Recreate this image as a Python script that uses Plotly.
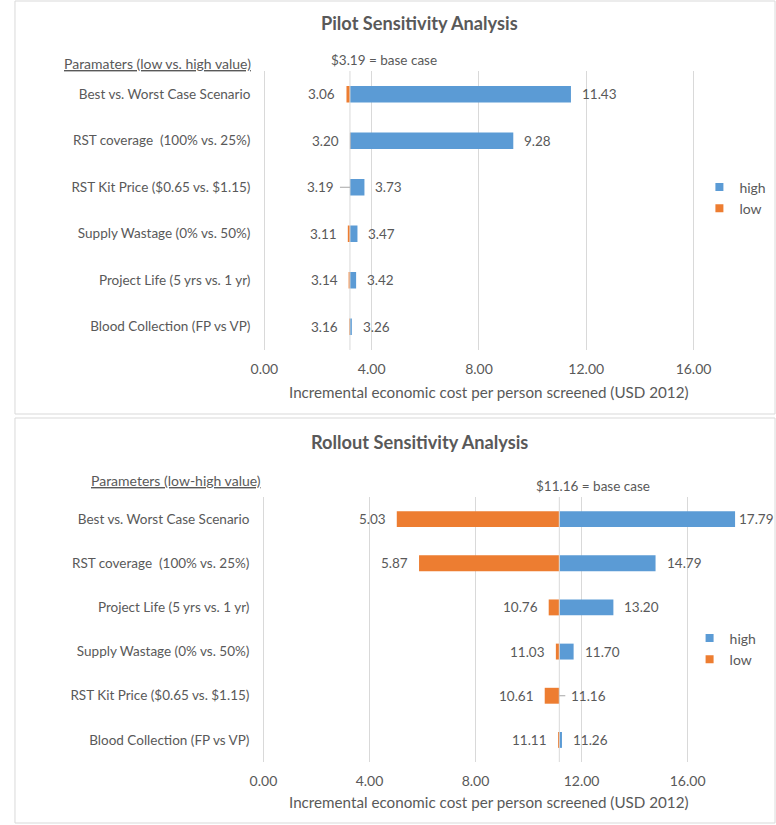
import plotly.graph_objects as go

# ---------------- data ----------------
pilot_categories = [
    "Best vs. Worst Case Scenario",
    "RST coverage  (100% vs. 25%)",
    "RST Kit Price ($0.65 vs. $1.15)",
    "Supply Wastage (0% vs. 50%)",
    "Project Life (5 yrs vs. 1 yr)",
    "Blood Collection (FP vs VP)",
]
pilot_low = [3.06, 3.20, 3.19, 3.11, 3.14, 3.16]
pilot_high = [11.43, 9.28, 3.73, 3.47, 3.42, 3.26]
pilot_base = 3.19

rollout_categories = [
    "Best vs. Worst Case Scenario",
    "RST coverage  (100% vs. 25%)",
    "Project Life (5 yrs vs. 1 yr)",
    "Supply Wastage (0% vs. 50%)",
    "RST Kit Price ($0.65 vs. $1.15)",
    "Blood Collection (FP vs VP)",
]
rollout_low = [5.03, 5.87, 10.76, 11.03, 10.61, 11.11]
rollout_high = [17.79, 14.79, 13.20, 11.70, 11.16, 11.26]
rollout_base = 11.16

x_ticks = [0, 4, 8, 12, 16]

# ---------------- style ----------------
W, H = 776, 825
BLUE = "#5B9BD5"
ORANGE = "#ED7D31"
GRID = "#D9D9D9"
TXT = "#595959"
FONT = "Lato"
FS = 13.5

fig = go.Figure()

panels = [
    dict(cats=pilot_categories, low=pilot_low, high=pilot_high, base=pilot_base,
         xa="x", ya="y", x0px=255, x16px=692, top=71, bottom=350,
         title="Pilot Sensitivity Analysis", title_y=23,
         header="<u>Paramaters (low vs. high value)</u>", header_x=243, header_y=63,
         axis_title_y=392, legend="legend", leg_x=698, leg_y=198,
         panel=(1, 1, 775, 414)),
    dict(cats=rollout_categories, low=rollout_low, high=rollout_high, base=rollout_base,
         xa="x2", ya="y2", x0px=254, x16px=686, top=497, bottom=762,
         title="Rollout Sensitivity Analysis", title_y=442,
         header="<u>Parameters (low-high value)</u>", header_x=254, header_y=480,
         axis_title_y=802, legend="legend2", leg_x=688, leg_y=649,
         panel=(1, 418, 775, 823)),
]

annotations = []
shapes = []
right_px = 770

for i, p in enumerate(panels):
    base = p["base"]
    scale = (p["x16px"] - p["x0px"]) / 16.0
    xmax = (right_px - p["x0px"]) / scale
    xa, ya = p["xa"], p["ya"]
    axn = "" if i == 0 else "2"

    # high bars (from base to high)
    fig.add_trace(go.Bar(
        y=p["cats"], x=[h - base for h in p["high"]], base=base, orientation="h",
        marker=dict(color=BLUE, line=dict(width=0)), width=0.36,
        xaxis=xa, yaxis=ya, showlegend=False, name="high", hoverinfo="skip"))
    # low bars (from low to base)
    fig.add_trace(go.Bar(
        y=p["cats"], x=[base - l for l in p["low"]], base=p["low"], orientation="h",
        marker=dict(color=ORANGE, line=dict(width=0)), width=0.36,
        xaxis=xa, yaxis=ya, showlegend=False, name="low", hoverinfo="skip"))
    # legend entries
    for name, col in [("high", BLUE), ("low", ORANGE)]:
        fig.add_trace(go.Scatter(
            x=[None], y=[None], mode="markers", name=name,
            marker=dict(symbol="square", size=8, color=col),
            xaxis=xa, yaxis=ya, legend=p["legend"], showlegend=True))

    fig.update_layout(**{
        "xaxis" + axn: dict(
            domain=[p["x0px"] / W, right_px / W], range=[0, xmax],
            tickvals=x_ticks, tickformat=".2f", showgrid=True, gridcolor=GRID,
            gridwidth=1, zeroline=True, zerolinecolor=GRID, zerolinewidth=1,
            showline=False, ticks="", ticklabelstandoff=9,
            tickfont=dict(family=FONT, size=14, color=TXT), anchor=ya,
            fixedrange=True),
        "yaxis" + axn: dict(
            domain=[1 - p["bottom"] / H, 1 - p["top"] / H],
            type="category", autorange="reversed", showgrid=False,
            zeroline=False, showline=False, ticks="", ticklabelstandoff=13,
            tickfont=dict(family=FONT, size=FS, color=TXT), anchor=xa,
            fixedrange=True),
        p["legend"]: dict(
            x=p["leg_x"] / W, y=1 - p["leg_y"] / H, xanchor="left", yanchor="middle",
            bgcolor="rgba(0,0,0,0)", font=dict(family=FONT, size=14, color=TXT),
            traceorder="normal", itemwidth=30, tracegroupgap=0),
    })

    # base case vertical line
    shapes.append(dict(type="line", xref=xa, yref=ya + " domain", x0=base, x1=base,
                       y0=0, y1=1, line=dict(color=GRID, width=1), layer="above"))
    # panel border
    x0, y0, x1, y1 = p["panel"]
    shapes.append(dict(type="rect", xref="paper", yref="paper",
                       x0=x0 / W, x1=x1 / W, y0=1 - y1 / H, y1=1 - y0 / H,
                       line=dict(color=GRID, width=1), layer="below"))

    # data labels
    for cat, lo, hi in zip(p["cats"], p["low"], p["high"]):
        for val, side in [(lo, "low"), (hi, "high")]:
            txt = f"{val:.2f}"
            if abs(val - base) < 1e-9:
                # zero-length bar: label displaced with a leader line
                direction = -1 if side == "low" else 1
                annotations.append(dict(
                    x=val, y=cat, xref=xa, yref=ya, text=txt, showarrow=True,
                    arrowhead=0, arrowwidth=1, arrowcolor="#A6A6A6",
                    ax=direction * 29, ay=0, borderpad=5,
                    font=dict(family=FONT, size=FS, color=TXT)))
                continue
            if side == "low":
                annotations.append(dict(
                    x=val, y=cat, xref=xa, yref=ya, text=txt, showarrow=False,
                    xanchor="right", xshift=-9,
                    font=dict(family=FONT, size=FS, color=TXT)))
            else:
                end_px = p["x0px"] + val * scale
                shift = 9 if end_px + 9 + 36 < W - 2 else 2
                annotations.append(dict(
                    x=val, y=cat, xref=xa, yref=ya, text=txt, showarrow=False,
                    xanchor="left", xshift=shift,
                    font=dict(family=FONT, size=FS, color=TXT)))

    # base case label
    annotations.append(dict(
        x=base, y=1, xref=xa, yref=ya + " domain", text=f"${base:.2f} = base case",
        showarrow=False, xanchor="center", yanchor="middle", xshift=34, yshift=11,
        font=dict(family=FONT, size=FS, color=TXT)))
    # title
    annotations.append(dict(
        x=413 / W, y=1 - p["title_y"] / H, xref="paper", yref="paper",
        text=f"<b>{p['title']}</b>", showarrow=False, xanchor="center", yanchor="middle",
        font=dict(family=FONT, size=18.2, color=TXT)))
    # parameter header
    annotations.append(dict(
        x=p["header_x"] / W, y=1 - p["header_y"] / H, xref="paper", yref="paper",
        text=p["header"], showarrow=False, xanchor="right", yanchor="middle",
        font=dict(family=FONT, size=14, color=TXT)))
    # axis title
    annotations.append(dict(
        x=484 / W, y=1 - p["axis_title_y"] / H, xref="paper", yref="paper",
        text="Incremental economic cost per person screened (USD 2012)",
        showarrow=False, xanchor="center", yanchor="middle",
        font=dict(family=FONT, size=15.2, color=TXT)))

fig.update_layout(
    width=W, height=H, margin=dict(l=0, r=0, t=0, b=0),
    paper_bgcolor="white", plot_bgcolor="white",
    barmode="overlay", bargap=0.64,
    annotations=annotations, shapes=shapes,
    font=dict(family=FONT, size=FS, color=TXT),
)

fig.write_html(
    "out.html",
    config=dict(displayModeBar=False, staticPlot=True),
    post_script="document.body.style.margin='0';document.body.style.overflow='hidden';",
)
